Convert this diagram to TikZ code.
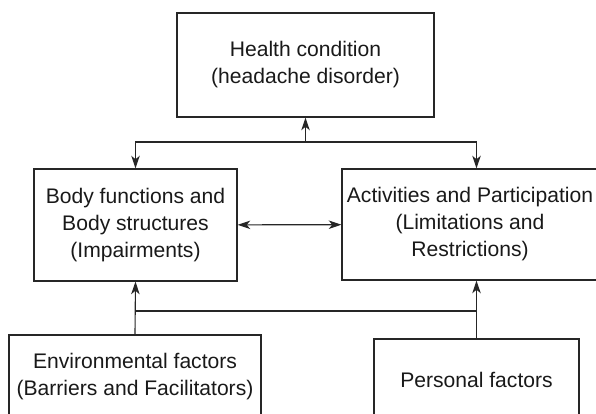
\documentclass[tikz,border=0pt]{standalone}
\usepackage{fontspec}
\setmainfont{Liberation Sans}
\usetikzlibrary{arrows.meta}

\begin{document}
\begin{tikzpicture}[x=0.025cm, y=-0.025cm, line width=0.8pt, align=center,
	font=\fontsize{15}{19.2}\selectfont,
	box/.style={draw=black!85, text=black!90, inner sep=0pt},
	tip/.tip={Stealth[length=9pt, width=6pt, inset=2.5pt]},
	arr/.style={-tip, draw=black!85},
	dblarr/.style={tip-tip, draw=black!85},
	link/.style={draw=black!85}]
	\clip (0, 0) rectangle (596, 413);

	% 1. Health condition
	\node[box, minimum width=6.425cm, minimum height=2.6cm] (health) at (305.5, 65)
		{Health condition\\(headache disorder)};

	% 2. Body functions / Activities
	\node[box, minimum width=5.075cm, minimum height=2.8cm] (body) at (135.5, 225)
		{Body functions and\\Body structures\\(Impairments)};
	\node[box, minimum width=6.4cm, minimum height=2.775cm] (act) at (470, 224.5)
		{Activities and Participation\\(Limitations and\\Restrictions)};

	% 3. Contextual factors
	\node[box, minimum width=6.3cm, minimum height=2.1cm] (env) at (135, 377)
		{Environmental factors\\(Barriers and Facilitators)};
	\node[box, minimum width=5.125cm, minimum height=2.05cm] (pers) at (476.5, 380)
		{Personal factors};

	% connectors
	\coordinate (upper) at (health.south |- 0, 142);
	\coordinate (lower) at (env.north |- 0, 311);
	\draw[arr] (upper) -- (health.south);
	\draw[arr] (upper) -| (body.north);
	\draw[arr] (upper) -| (act.north -| pers.north);
	\draw[dblarr] (body) -- (act);
	\draw[arr] (env.north) -- (body.south);
	\draw[arr] (pers.north) -- (pers.north |- act.south);
	\draw[link] (lower) -- (pers.north |- lower);
\end{tikzpicture}
\end{document}
